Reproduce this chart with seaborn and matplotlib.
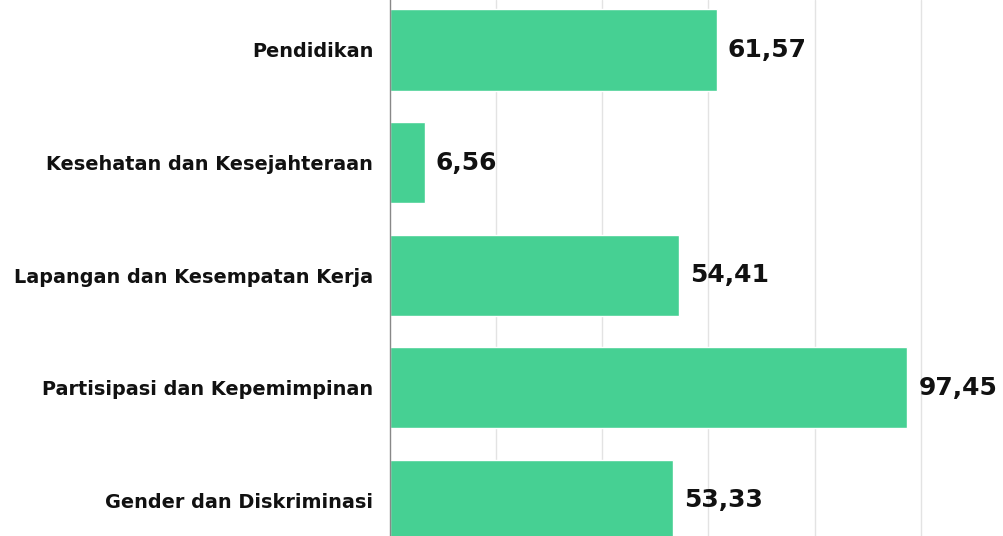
import matplotlib
matplotlib.use("Agg")
import matplotlib.pyplot as plt
import seaborn as sns
import pandas as pd

categories = ["Pendidikan", "Kesehatan dan Kesejahteraan", "Lapangan dan Kesempatan Kerja",
              "Partisipasi dan Kepemimpinan", "Gender dan Diskriminasi"]
values = [61.57, 6.56, 54.41, 97.45, 53.33]
value_labels = ["61,57", "6,56", "54,41", "97,45", "53,33"]

sns.set_theme(style="white")
plt.rcParams['font.family'] = ['DejaVu Sans']

df = pd.DataFrame({"cat": categories, "val": values})

fig = plt.figure(figsize=(10.04, 5.36), dpi=100)
ax = fig.add_axes([390/1004, 0, 1 - 390/1004, 1])
sns.barplot(data=df, x="val", y="cat", color="#46D093", saturation=1, width=0.72, ax=ax)

ax.set_xlim(0, 115.7)
ax.set_ylim(4.316, -0.444)
ax.set_xticks([20, 40, 60, 80, 100])
ax.set_xticklabels([])
ax.tick_params(axis="x", length=0)
ax.tick_params(axis="y", length=0, pad=12)
ax.grid(axis="x", color="#e3e3e3", linewidth=1)
ax.set_axisbelow(True)
for s in ["top", "right", "bottom"]:
    ax.spines[s].set_visible(False)
ax.spines["left"].set_color("#888888")
ax.spines["left"].set_linewidth(1)
ax.set_xlabel("")
ax.set_ylabel("")
for lab in ax.get_yticklabels():
    lab.set_fontweight("bold")
    lab.set_fontsize(13.9)
    lab.set_color("#111111")

for i, (v, t) in enumerate(zip(values, value_labels)):
    ax.annotate(t, xy=(v, i), xytext=(8, 0), textcoords="offset points",
                va="center", ha="left", fontsize=18, fontweight="bold", color="#111111")

fig.savefig("out.png", dpi=100)
